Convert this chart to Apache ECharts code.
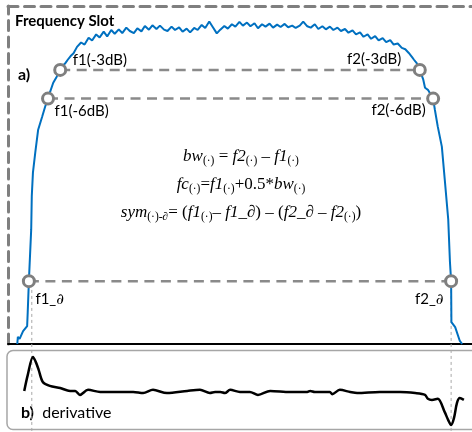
<!DOCTYPE html>
<html>
<head>
<meta charset="utf-8">
<script src="https://cdn.jsdelivr.net/npm/echarts@6/dist/echarts.min.js"></script>
<style>html,body{margin:0;padding:0;background:#fff}#c{width:472px;height:432px}</style>
</head>
<body>
<div id="c"></div>
<script>
// ---- data (frequency offset in GHz, relative level a.u.) ----
const spectrumFreq = [
 -38.4,-38.3,-38.0,-37.4,-36.7,-36.6,-36.4,-36.0,-35.9,-35.7,-35.3,-34.8,-34.1,-33.6,-33.1,-32.8,-32.2,-31.6,-31.0,-30.6,-30.2,-29.7,-29.2,-28.7,
 -28.1,-27.4,-26.8,-26.1,-25.5,-24.8,-24.2,-23.5,-22.9,-22.2,-21.6,-20.9,-20.3,-19.6,-19.0,-18.3,-17.7,-17.0,-16.4,-15.7,-15.1,-14.4,-13.8,-13.1,
 -12.5,-11.8,-11.2,-10.5,-9.9,-9.2,-8.6,-7.9,-7.3,-6.6,-6.0,-5.3,-4.7,-4.0,-3.4,-2.7,-2.1,-1.4,-0.8,-0.1,0.5,1.2,1.8,2.5,3.1,3.8,4.4,5.1,5.7,
 6.4,7.0,7.7,8.3,9.0,9.6,10.3,10.9,11.6,12.2,12.9,13.5,14.2,14.8,15.5,16.1,16.8,17.4,18.1,18.7,19.4,20.0,20.7,21.3,22.0,22.6,23.3,23.9,24.6,
 25.2,25.9,26.5,27.2,27.9,28.5,29.1,29.7,30.0,30.5,31.0,31.6,31.9,32.4,33.3,33.6,34.1,34.8,35.3,35.9,36.2,36.4,36.45,37.1,37.9,38.3
];
const spectrumLevel = [
 0,2.1,1.5,3.8,5.3,9.4,18.6,33.9,43.7,50.7,56.6,63.4,67.3,70.2,72.6,74.3,77.3,79.1,81.1,82.4,82.9,84.1,85.2,86.0,
 87.9,89.2,88.6,90.6,89.8,91.6,90.7,92.4,91.0,92.9,91.8,93.1,92.0,93.6,92.6,92.0,93.4,92.5,94.1,93.0,94.3,93.2,94.2,93.0,
 92.6,93.9,92.9,93.7,92.4,93.3,92.2,93.5,92.9,94.4,93.5,95.4,93.8,91.9,93.0,94.1,93.3,94.6,93.9,95.3,94.2,95.1,94.0,94.9,93.4,94.6,93.9,94.8,93.6,
 94.5,93.8,94.7,93.7,94.2,93.5,94.2,95.4,94.0,93.6,94.6,93.2,94.0,93.1,93.9,92.9,93.6,92.6,93.2,92.1,92.8,91.6,92.2,90.9,91.6,90.3,91.1,89.8,90.5,
 89.3,89.9,88.6,88.9,87.6,87.2,86.1,84.8,84.1,83.0,81.1,78.2,75.8,75.2,72.6,69.3,64.3,58.4,48.7,36.9,24.2,18.6,6.5,5.0,0.9,0
];
const derivFreq = [
 -37.2,-36.6,-35.7,-35.2,-34.7,-34.0,-32.8,-31.0,-29.3,-28.4,-27.6,-26.2,-24.1,-18.4,-16.7,-15.0,-12.6,-9.1,-6.9,-5.2,-4.3,-3.4,-2.6,-1.7,
 0,1.7,3.1,5.2,8.6,11.6,12.1,12.9,15.5,15.9,17.2,19.0,20.2,24.1,27.6,30.2,31.9,32.4,33.1,34.1,35.3,35.9,36.4,36.9,37.4,37.9,38.6
];
const derivValue = [
 0.03,0.47,0.97,0.83,0.61,0.28,0.17,0.11,0.03,0.03,-0.08,0.06,0,0,-0.03,0.06,-0.03,0.03,0.06,-0.03,0,0,-0.03,0.06,
 0,0,-0.08,0.03,0,0,0.03,0,0,-0.06,0.06,0,-0.03,0,0,-0.03,-0.08,-0.19,-0.22,-0.19,-0.56,-0.78,-0.92,-0.72,-0.31,-0.17,-0.22
];
const markerNames = ['f1(-3dB)','f2(-3dB)','f1(-6dB)','f2(-6dB)','f1_∂','f2_∂'];
const markerFreq  = [-31.0, 31.0, -33.1, 33.3, -36.4, 36.4];
const markerLevel = [81.1, 81.1, 72.6, 72.6, 18.6, 18.6];
const guideFreq = [-35.9, 36.4];
const titleText = 'Frequency Slot';
const panelA = 'a)';
const panelB = 'b)';
const panelBText = 'derivative';
const equations = [
 '{m|bw}{s|(·)}{u| = }{m|f2}{s|(·)}{u| – }{m|f1}{s|(·)}',
 '{m|fc}{s|(·)}{u|=}{m|f1}{s|(·)}{u|+0.5*}{m|bw}{s|(·)}',
 '{m|sym}{s|(·)-∂}{u|= (}{m|f1}{s|(·)}{u|– }{m|f1_∂}{u|) – (}{m|f2_∂}{u| – }{m|f2}{s|(·)}{u|)}'
];

// ---- styling / building ----
const GRAY = '#7f7f7f';
const BLUE = '#0070c0';
const spectrum = spectrumFreq.map((f, i) => [f, spectrumLevel[i]]);
const deriv = derivFreq.map((f, i) => [f, derivValue[i]]);

const labelCfg = [
  {pos: [19.5, -2.5], align: 'left'},
  {pos: [-11.5, -3.5], align: 'right'},
  {pos: [13.5, 19.5], align: 'left'},
  {pos: [-0.5, 18.5], align: 'right'},
  {pos: [13.5, 25.5], align: 'left'},
  {pos: [-0.5, 25.5], align: 'right'}
];
const markerData = markerNames.map((n, i) => ({
  value: [markerFreq[i], markerLevel[i]],
  name: n,
  label: {
    show: true,
    position: labelCfg[i].pos,
    align: labelCfg[i].align,
    verticalAlign: 'middle',
    formatter: n.indexOf('∂') >= 0 ? n.replace('∂', '{i|∂}') : n
  }
}));

const levelSeries = [0, 2, 4].map(k => ({
  type: 'line', xAxisIndex: 0, yAxisIndex: 0, symbol: 'none', silent: true, z: 2,
  data: [[markerFreq[k], markerLevel[k]], [markerFreq[k + 1], markerLevel[k + 1]]],
  lineStyle: {color: '#8a8a8a', width: 2.5, type: [10, 6.5]}
}));
const guideSeries = guideFreq.map(f => ({
  type: 'line', xAxisIndex: 0, yAxisIndex: 0, symbol: 'none', silent: true, clip: false, z: 1,
  data: [[f, 16], [f, -26.5]],
  lineStyle: {color: '#a8a8a8', width: 1, type: [3, 3]}
}));

const eqRich = {
  m: {fontFamily: 'Liberation Serif', fontStyle: 'italic', fontSize: 17, lineHeight: 19, fill: '#000', color: '#000'},
  u: {fontFamily: 'Liberation Serif', fontSize: 17, lineHeight: 19, fill: '#000', color: '#000'},
  s: {fontFamily: 'Liberation Serif', fontSize: 11.5, lineHeight: 9, verticalAlign: 'bottom', fill: '#000', color: '#000'}
};
const eqY = [157, 185, 213];

const chart = echarts.init(document.getElementById('c'), null, {renderer: 'canvas'});
chart.setOption({
  animation: false,
  backgroundColor: '#fff',
  textStyle: {fontFamily: 'Lato'},
  grid: [
    {left: 8, right: 0, top: 6, height: 338},
    {left: 8, right: 0, top: 356, height: 72}
  ],
  xAxis: [
    {gridIndex: 0, type: 'value', min: -40, max: 40, position: 'top',
     axisLine: {show: true, onZero: false, lineStyle: {color: GRAY, width: 3, type: [10, 6.5]}},
     axisTick: {show: false}, axisLabel: {show: false}, splitLine: {show: false}},
    {gridIndex: 0, type: 'value', min: -40, max: 40, position: 'bottom',
     axisLine: {show: true, onZero: false, lineStyle: {color: '#000', width: 2}},
     axisTick: {show: false}, axisLabel: {show: false}, splitLine: {show: false}},
    {gridIndex: 1, type: 'value', min: -40, max: 40, show: false}
  ],
  yAxis: [
    {gridIndex: 0, type: 'value', min: 0, max: 100, position: 'left',
     axisLine: {show: true, onZero: false, lineStyle: {color: GRAY, width: 3, type: [10, 6.5]}},
     axisTick: {show: false}, axisLabel: {show: false}, splitLine: {show: false}},
    {gridIndex: 1, type: 'value', min: -1, max: 1, show: false}
  ],
  series: [
    ...guideSeries,
    ...levelSeries,
    {type: 'line', xAxisIndex: 0, yAxisIndex: 0, data: spectrum, symbol: 'none', z: 3,
     lineStyle: {color: BLUE, width: 2}, silent: true},
    {type: 'scatter', xAxisIndex: 0, yAxisIndex: 0, data: markerData, symbol: 'circle', symbolSize: 11, z: 5,
     itemStyle: {color: '#fff', borderColor: GRAY, borderWidth: 3, opacity: 1},
     label: {color: '#000', fontFamily: 'Lato', fontSize: 15,
       rich: {i: {fontFamily: 'DejaVu Serif', fontStyle: 'italic', fontSize: 15, color: '#000'}}}},
    {type: 'line', xAxisIndex: 2, yAxisIndex: 1, data: deriv, symbol: 'none', smooth: 0.3, z: 3,
     lineStyle: {color: '#000', width: 2.5}, silent: true}
  ],
  graphic: [
    {type: 'rect', z: 0, shape: {x: 7, y: 350.5, width: 472, height: 79, r: 6},
     style: {fill: 'none', stroke: '#a6a6a6', lineWidth: 1.5}},
    {type: 'text', x: 15, y: 21.5, style: {text: titleText, font: 'bold 15px Lato', fill: '#000',
      align: 'left', verticalAlign: 'middle', textAlign: 'left', textVerticalAlign: 'middle'}},
    {type: 'text', x: 18, y: 74.5, style: {text: panelA, font: 'bold 16px Lato', fill: '#000',
      align: 'left', verticalAlign: 'middle', textAlign: 'left', textVerticalAlign: 'middle'}},
    {type: 'text', x: 21, y: 413, style: {text: '{b|' + panelB + '}{n|  ' + panelBText + '}',
      rich: {b: {font: 'bold 16px Lato', fill: '#000', color: '#000'}, n: {font: '16px Lato', fill: '#000', color: '#000'}},
      align: 'left', verticalAlign: 'middle', textAlign: 'left', textVerticalAlign: 'middle'}},
    ...equations.map((t, i) => ({type: 'text', x: 241, y: eqY[i], z: 10,
      style: {text: t, rich: eqRich, align: 'center', verticalAlign: 'middle', textAlign: 'center', textVerticalAlign: 'middle'}}))
  ]
});
</script>
</body>
</html>
